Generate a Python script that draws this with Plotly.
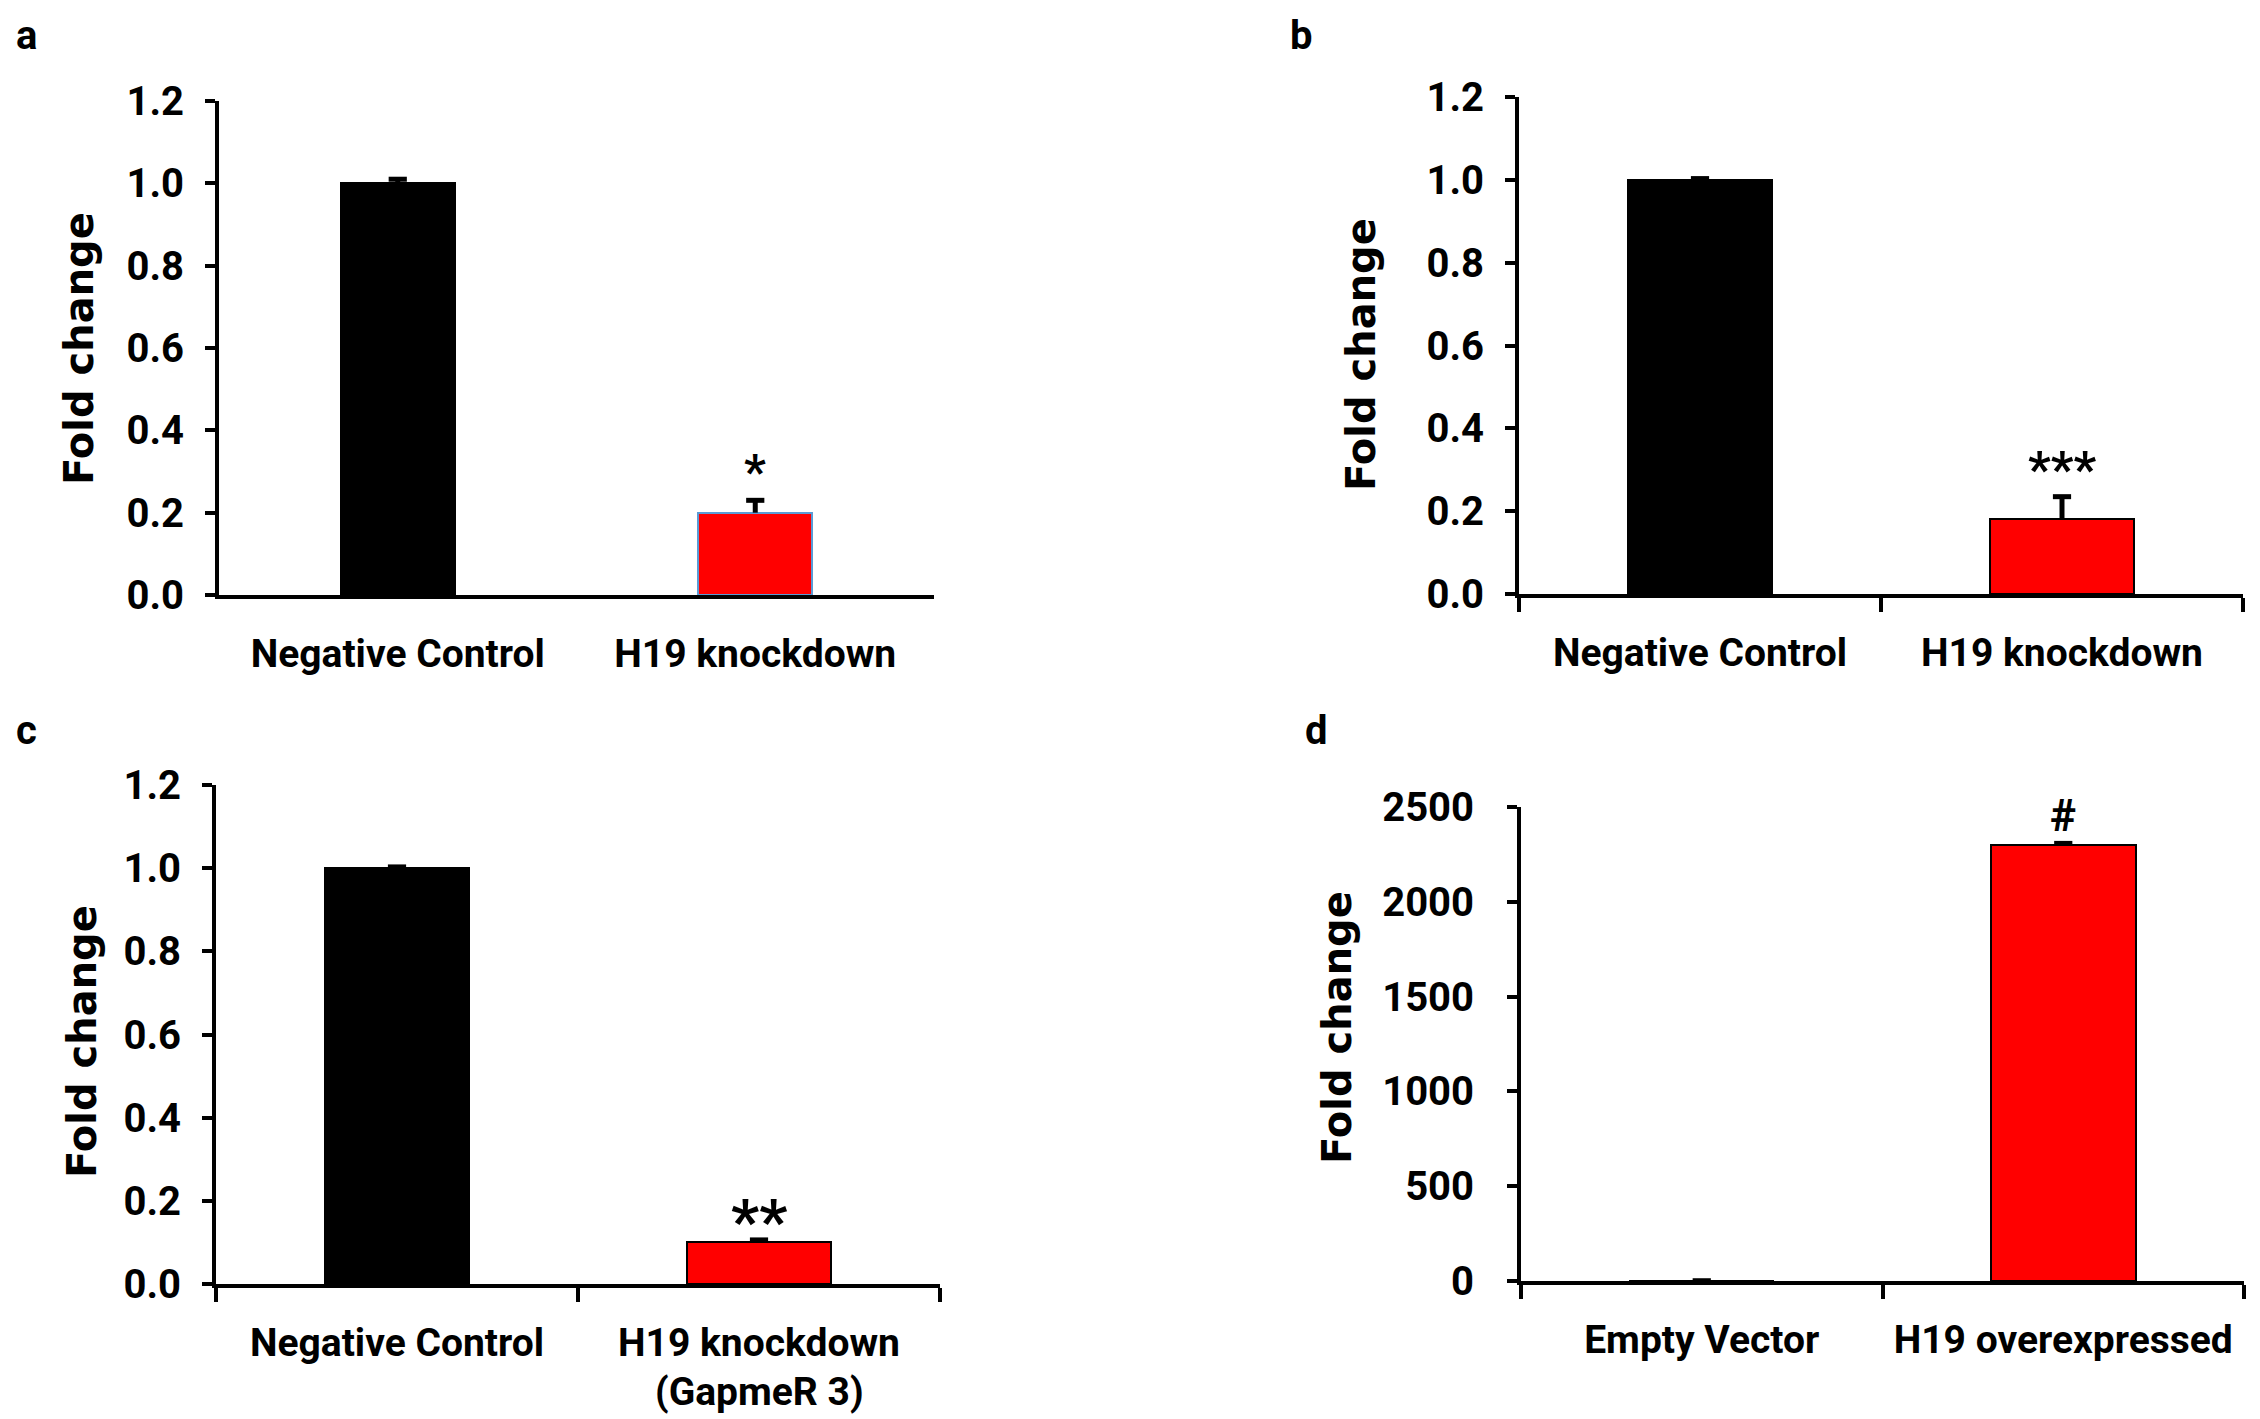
import plotly.graph_objects as go

# ---- data ----
a_categories = ["Negative Control", "H19 knockdown"]
a_values = [1.0, 0.20]
a_errors = [0.01, 0.03]
a_marks = ["", "*"]

b_categories = ["Negative Control", "H19 knockdown"]
b_values = [1.0, 0.18]
b_errors = [0.003, 0.055]
b_marks = ["", "***"]

c_categories = ["Negative Control", "H19 knockdown"]
c_values = [1.0, 0.10]
c_errors = [0.003, 0.006]
c_marks = ["", "**"]
c_sublabel = "(GapmeR 3)"

d_categories = ["Empty Vector", "H19 overexpressed"]
d_values = [1.0, 2300]
d_errors = [0.5, 8]
d_marks = ["", "#"]

fold_ticks = [0.0, 0.2, 0.4, 0.6, 0.8, 1.0, 1.2]
fold_ticktext = ["0.0", "0.2", "0.4", "0.6", "0.8", "1.0", "1.2"]
d_ticks = [0, 500, 1000, 1500, 2000, 2500]

W, H = 2260, 1419
OFF = 8  # default page body margin
FW, FH = W - OFF, H - OFF
BAR_COLORS = ["#000000", "#FF0000"]
TICKFONT = dict(family="Roboto", size=40, color="black", weight="bold")
CATFONT = dict(family="Roboto", size=39, color="black", weight="bold")


def px_x(p):
    return (p - OFF) / FW


def px_y(p):
    return 1 - (p - OFF) / FH


fig = go.Figure()

panels = [
    ("a", a_categories, a_values, a_errors, a_marks, (219, 934), (101, 595), [0, 1.2], fold_ticks, 0.32,
     ["#000000", "#5B9BD5"], False, 48, 0.30),
    ("b", b_categories, b_values, b_errors, b_marks, (1519, 2243), (97, 594), [0, 1.2], fold_ticks, 0.40,
     ["#000000", "#000000"], True, 50, 0.30),
    ("c", c_categories, c_values, c_errors, c_marks, (216, 940), (785, 1284), [0, 1.2], fold_ticks, 0.40,
     ["#000000", "#000000"], True, 62, 0.15),
    ("d", d_categories, d_values, d_errors, d_marks, (1521, 2244), (807, 1281), [0, 2500], d_ticks, 0.40,
     ["#000000", "#000000"], True, 44, 2450),
]

for i, (key, cats, vals, errs, marks, xd, yd, rng, ticks, bw, lines, xticks, msize, my) in enumerate(panels):
    n = "" if i == 0 else str(i + 1)
    # bars with error stems (no caps)
    fig.add_trace(go.Bar(
        x=cats, y=vals, width=[bw, bw],
        marker=dict(color=BAR_COLORS, line=dict(color=lines, width=2)),
        error_y=dict(type="data", array=errs, arrayminus=[0, 0], symmetric=False,
                     thickness=5, width=0, color="black"),
        xaxis="x" + n, yaxis="y" + n, showlegend=False, hoverinfo="skip",
    ))
    # error caps on top only
    fig.add_trace(go.Scatter(
        x=cats, y=[v + e for v, e in zip(vals, errs)], mode="markers",
        marker=dict(symbol="line-ew", size=13, line=dict(color="black", width=5)),
        xaxis="x" + n, yaxis="y" + n, showlegend=False, hoverinfo="skip",
    ))
    fig.update_layout(**{
        "xaxis" + n: dict(
            domain=[px_x(xd[0]), px_x(xd[1])], anchor="y" + n,
            type="category", range=[-0.5, 1.5], automargin=False,
            showline=True, linecolor="black", linewidth=4,
            ticks="outside" if xticks else "", tickson="boundaries",
            ticklen=14, tickwidth=4, tickcolor="black",
            tickfont=CATFONT, ticklabelstandoff=21,
            showgrid=False, zeroline=False, fixedrange=True,
        ),
        "yaxis" + n: dict(
            domain=[px_y(yd[1]), px_y(yd[0])], anchor="x" + n,
            range=rng, tickvals=ticks, automargin=False,
            ticktext=fold_ticktext if key != "d" else [str(t) for t in ticks],
            showline=True, linecolor="black", linewidth=4,
            ticks="outside", ticklen=10, tickwidth=4, tickcolor="black",
            tickfont=TICKFONT, ticklabelstandoff=13 if key != "d" else 25,
            showgrid=False, zeroline=False, fixedrange=True,
        ),
    })
    for cat, mk in zip(cats, marks):
        if mk:
            fig.add_annotation(x=cat, y=my, xref="x" + n, yref="y" + n, text=mk,
                               showarrow=False, yanchor="middle",
                               font=dict(family="Roboto", size=msize, color="black", weight="bold"))

# y-axis titles
for (x, y) in [(79, 349), (1361, 355), (82, 1042), (1337, 1028)]:
    fig.add_annotation(x=px_x(x), y=px_y(y), xref="paper", yref="paper", text="Fold change",
                       textangle=-90, showarrow=False, xanchor="center", yanchor="middle",
                       font=dict(family="DejaVu Sans", size=40, color="black", weight="bold"))

# panel letters
for letter, (x, y) in zip(["a", "b", "c", "d"], [(26, 35), (1301, 35), (26, 731), (1316, 731)]):
    fig.add_annotation(x=px_x(x), y=px_y(y), xref="paper", yref="paper", text=letter,
                       showarrow=False, xanchor="center", yanchor="middle",
                       font=dict(family="Roboto", size=40, color="black", weight="bold"))

# second line of panel c label
fig.add_annotation(x=c_categories[1], y=px_y(1392), xref="x3", yref="paper", text=c_sublabel,
                   showarrow=False, xanchor="center", yanchor="middle", font=CATFONT)

fig.update_layout(
    width=FW, height=FH, margin=dict(l=0, r=0, t=0, b=0, pad=0),
    paper_bgcolor="white", plot_bgcolor="white",
    bargap=0,
)

fig.write_html("out.html")
